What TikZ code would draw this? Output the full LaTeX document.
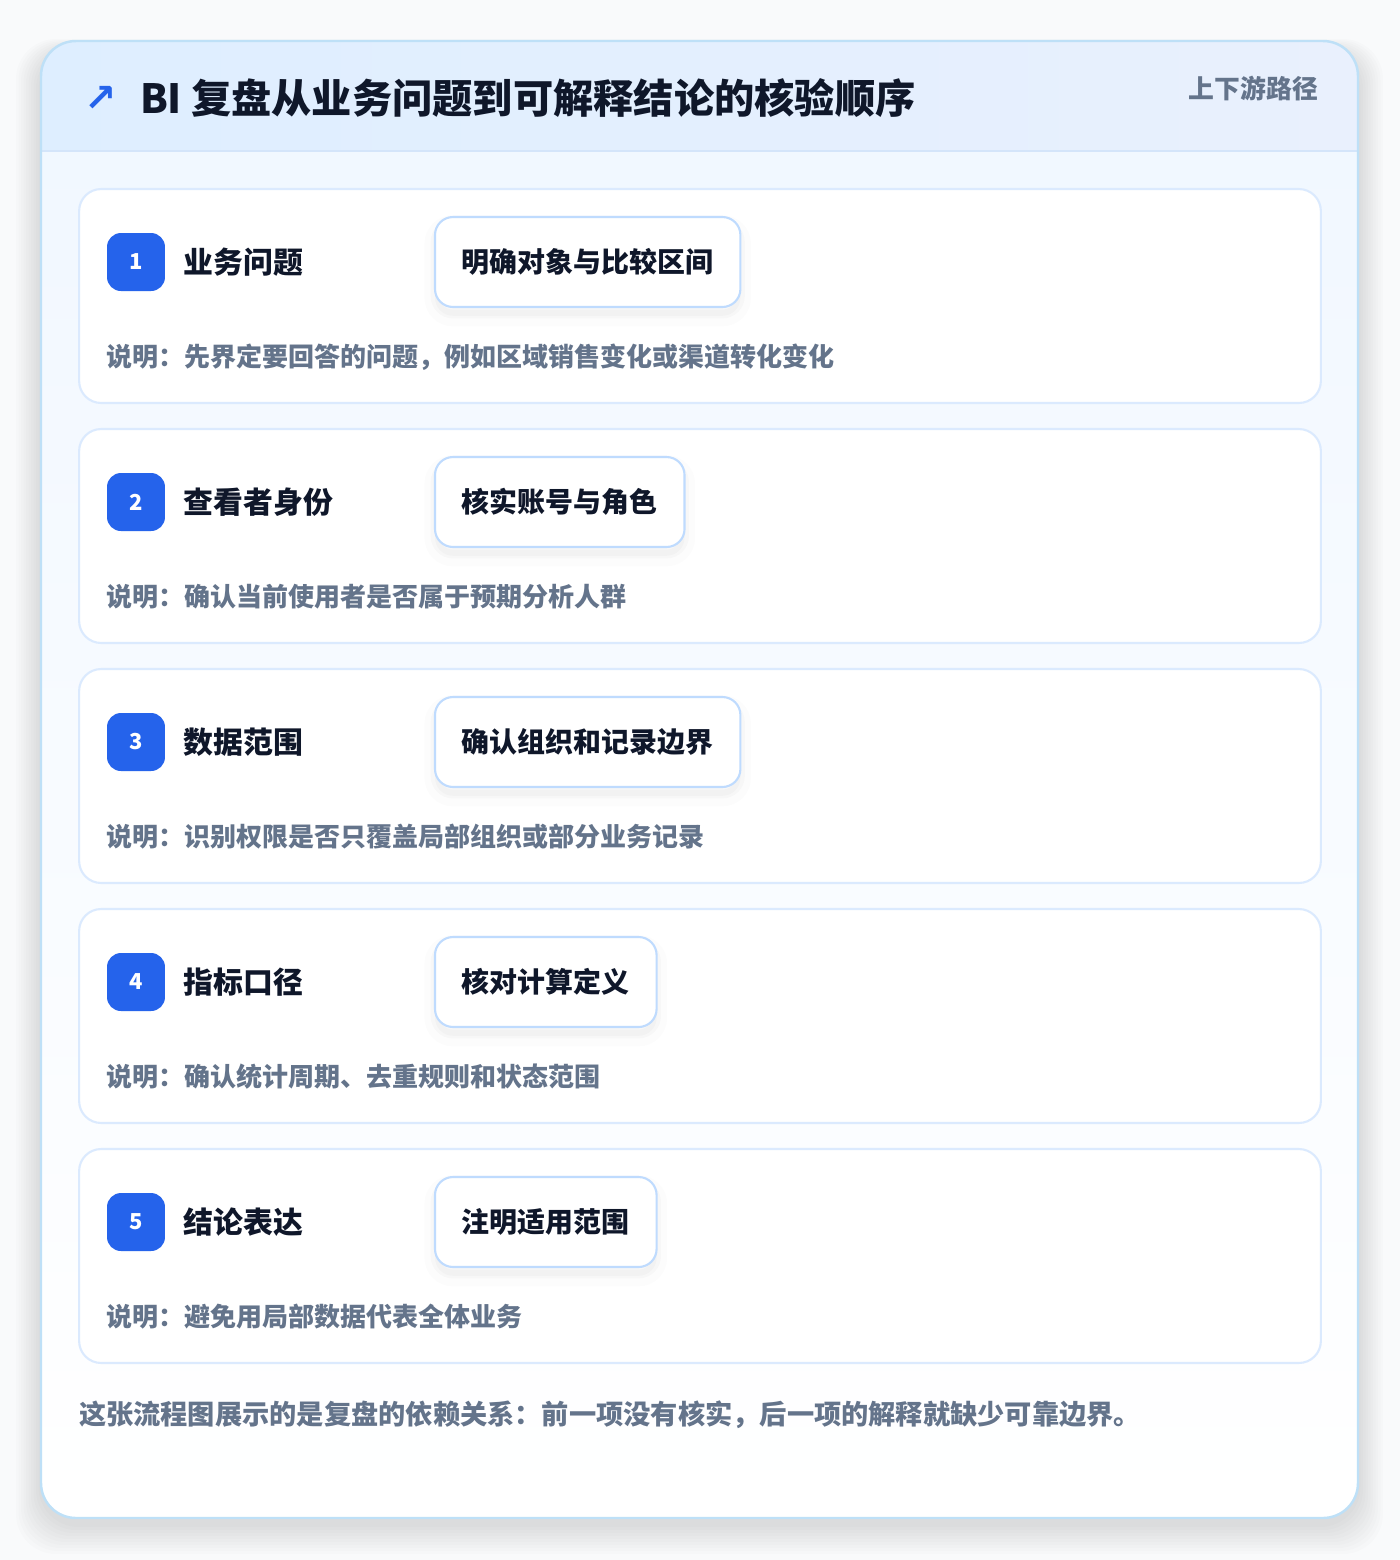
\documentclass[tikz,border=0pt]{standalone}
\usepackage{fontspec}
\setmainfont{Noto Sans CJK SC}
\newfontfamily\symfont{DejaVu Sans}
\usetikzlibrary{positioning}

\definecolor{pagebg}{RGB}{249,250,251}
\definecolor{framec}{RGB}{190,224,247}
\definecolor{headleft}{RGB}{222,238,255}
\definecolor{headright}{RGB}{233,240,253}
\definecolor{headline}{RGB}{212,229,250}
\definecolor{bodytop}{RGB}{240,247,255}
\definecolor{cardline}{RGB}{219,234,254}
\definecolor{pillline}{RGB}{191,219,254}
\definecolor{accent}{RGB}{37,99,235}
\definecolor{ink}{RGB}{15,23,42}
\definecolor{muted}{RGB}{100,116,139}

\begin{document}
\begin{tikzpicture}[
  x=0.02cm, y=-0.02cm,
  every node/.style = {inner sep=0pt, outer sep=0pt, font=\bfseries},
  card/.style = {draw=cardline, line width=1.2pt, fill=white, rounded corners=0.44cm,
    minimum width=24.84cm, minimum height=4.28cm},
  badge/.style = {fill=accent, text=white, rounded corners=0.28cm,
    minimum size=1.16cm, font=\fontsize{12.5}{14}\selectfont\bfseries},
  steptitle/.style = {anchor=west, text=ink, font=\fontsize{17}{20}\selectfont\bfseries},
  pill/.style = {anchor=west, draw=pillline, line width=1.2pt, fill=white, text=ink,
    rounded corners=0.36cm, inner xsep=0.54cm, minimum height=1.8cm,
    font=\fontsize{15.9}{18}\selectfont\bfseries,
    preaction={draw=black, draw opacity=0.012, line width=12pt, fill=black, fill opacity=0.02,
      transform canvas={yshift=-5pt}},
    preaction={draw=black, draw opacity=0.02, line width=5pt,
      transform canvas={yshift=-4pt}}},
  desc/.style = {anchor=west, text=muted, font=\fontsize{14.8}{17}\selectfont\bfseries}
  ]
  \useasboundingbox[fill=pagebg] (0,0) rectangle (1400,1560);

  % soft shadow under the frame
  \foreach \g in {1,...,10}
    \fill[black, fill opacity=0.010, rounded corners=0.8cm]
      (41-2.5*\g,41-1.2*\g+10) rectangle (1358+2.5*\g,1518+3*\g+6);

  % outer frame and header
  \shade[rounded corners=0.7cm, top color=bodytop, bottom color=white] (41,41) rectangle (1358,1518);
  \shade[left color=headleft, right color=headright]
    (41,151) [rounded corners=0.7cm] -- (41,41) -- (1358,41) [sharp corners] -- (1358,151) -- cycle;
  \draw[headline, line width=1pt] (41,151) -- (1358,151);
  \draw[framec, line width=1.4pt, rounded corners=0.7cm] (41,41) rectangle (1358,1518);

  \node[anchor=west, text=accent, font=\symfont\bfseries\fontsize{22}{24}\selectfont] (icon) at (84,99) {↗};
  \node[anchor=west, text=ink, font=\fontsize{22.9}{26}\selectfont\bfseries] (title) at (140,98)
    {BI 复盘从业务问题到可解释结论的核验顺序};
  \node[anchor=east, text=muted, font=\fontsize{14.7}{17}\selectfont\bfseries] (tag) at (1318,89)
    {上下游路径};

  % step 1
  \node[card] (c1) at (700,296) {};
  \node[badge] (b1) at (136,262) {1};
  \node[steptitle, right=0.38cm of b1] (t1) {业务问题};
  \node[pill] (p1) at (435,262) {明确对象与比较区间};
  \node[desc] (d1) at (106,357) {说明：先界定要回答的问题，例如区域销售变化或渠道转化变化};

  % step 2
  \node[card] (c2) at (700,536) {};
  \node[badge] (b2) at (136,502) {2};
  \node[steptitle, right=0.38cm of b2] (t2) {查看者身份};
  \node[pill] (p2) at (435,502) {核实账号与角色};
  \node[desc] (d2) at (106,597) {说明：确认当前使用者是否属于预期分析人群};

  % step 3
  \node[card] (c3) at (700,776) {};
  \node[badge] (b3) at (136,742) {3};
  \node[steptitle, right=0.38cm of b3] (t3) {数据范围};
  \node[pill] (p3) at (435,742) {确认组织和记录边界};
  \node[desc] (d3) at (106,837) {说明：识别权限是否只覆盖局部组织或部分业务记录};

  % step 4
  \node[card] (c4) at (700,1016) {};
  \node[badge] (b4) at (136,982) {4};
  \node[steptitle, right=0.38cm of b4] (t4) {指标口径};
  \node[pill] (p4) at (435,982) {核对计算定义};
  \node[desc] (d4) at (106,1077) {说明：确认统计周期、去重规则和状态范围};

  % step 5
  \node[card] (c5) at (700,1256) {};
  \node[badge] (b5) at (136,1222) {5};
  \node[steptitle, right=0.38cm of b5] (t5) {结论表达};
  \node[pill] (p5) at (435,1222) {注明适用范围};
  \node[desc] (d5) at (106,1317) {说明：避免用局部数据代表全体业务};

  \node[desc, font=\fontsize{15.5}{18}\selectfont\bfseries] (note) at (79,1415)
    {这张流程图展示的是复盘的依赖关系：前一项没有核实，后一项的解释就缺少可靠边界。};
\end{tikzpicture}
\end{document}
